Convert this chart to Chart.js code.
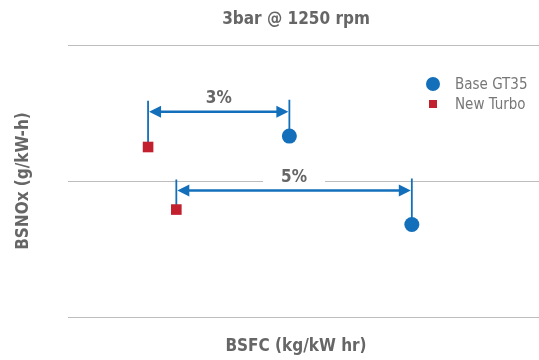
<!DOCTYPE html>
<html>
<head>
<meta charset="utf-8">
<script src="https://cdn.jsdelivr.net/npm/chart.js@4.4.1/dist/chart.umd.min.js"></script>
<style>
  html, body { margin: 0; padding: 0; background: #ffffff; }
  #wrap { width: 539px; height: 360px; }
</style>
</head>
<body>
<div id="wrap"><canvas id="c" width="539" height="360"></canvas></div>
<script>
// Operating point and series
const chartTitle = '3bar @ 1250 rpm';
const xTitle = 'BSFC (kg/kW hr)';
const yTitle = 'BSNOx (g/kW-h)';
const seriesNames = ['Base GT35', 'New Turbo'];

// BSFC is expressed relative to a common reference, in percent
const baseBsfc = [4.7, 7.3];
const baseNox  = [1.33, 0.68];
const newBsfc  = [1.7, 2.3];
const newNox   = [1.25, 0.79];

// NOx level at which each BSFC gap bracket is drawn
const gapLevels = [1.51, 0.93];

const BLUE = '#136fba';
const RED = '#c21f2f';
const TEXT = '#666666';
const CONDENSED = "'Liberation Sans Narrow', 'DejaVu Sans Condensed', 'Roboto', sans-serif";

const toPoints = (xs, ys) => xs.map((x, i) => ({ x: x, y: ys[i] }));

// Draws the gap brackets, legend, and titles
const decorations = {
  id: 'decorations',
  beforeDatasetsDraw(chart) {
    const { ctx, scales: { x, y } } = chart;
    ctx.save();
    gapLevels.forEach((lvl, i) => {
      const xl = x.getPixelForValue(newBsfc[i]);
      const xr = x.getPixelForValue(baseBsfc[i]);
      const ya = y.getPixelForValue(lvl);
      const yl = y.getPixelForValue(newNox[i]);
      const yr = y.getPixelForValue(baseNox[i]);
      const label = Math.round(baseBsfc[i] - newBsfc[i]) + '%';

      // label with a white backing that breaks the grid line
      ctx.font = 'bold 17px ' + CONDENSED;
      ctx.textAlign = 'center';
      ctx.textBaseline = 'middle';
      const cx = (xl + xr) / 2;
      const ly = ya - 14;
      const w = ctx.measureText(label).width + 36;
      ctx.fillStyle = '#ffffff';
      ctx.fillRect(cx - w / 2, ly - 9, w, 18);
      ctx.fillStyle = TEXT;
      ctx.fillText(label, cx, ly + 1);

      // drop lines from the bracket to each marker
      ctx.strokeStyle = BLUE;
      ctx.lineWidth = 1.8;
      ctx.beginPath();
      ctx.moveTo(xl, ya - 11); ctx.lineTo(xl, yl);
      ctx.moveTo(xr, ya - 12); ctx.lineTo(xr, yr);
      ctx.stroke();

      // double-headed arrow
      const head = 12, half = 6;
      ctx.lineWidth = 2.5;
      ctx.beginPath();
      ctx.moveTo(xl + head - 1, ya); ctx.lineTo(xr - head + 1, ya);
      ctx.stroke();
      ctx.fillStyle = BLUE;
      ctx.beginPath();
      ctx.moveTo(xl + 1, ya); ctx.lineTo(xl + 1 + head, ya - half); ctx.lineTo(xl + 1 + head, ya + half);
      ctx.closePath(); ctx.fill();
      ctx.beginPath();
      ctx.moveTo(xr - 1, ya); ctx.lineTo(xr - 1 - head, ya - half); ctx.lineTo(xr - 1 - head, ya + half);
      ctx.closePath(); ctx.fill();
    });
    ctx.restore();
  },
  afterDraw(chart) {
    const { ctx } = chart;
    ctx.save();
    ctx.fillStyle = TEXT;
    ctx.textBaseline = 'middle';
    ctx.textAlign = 'center';
    ctx.font = 'bold 17px ' + CONDENSED;
    ctx.fillText(chartTitle, 296, 20);
    ctx.fillText(xTitle, 296, 347);
    ctx.save();
    ctx.translate(24, 181);
    ctx.rotate(-Math.PI / 2);
    ctx.font = 'bold 17px ' + CONDENSED;
    ctx.fillText(yTitle, 0, 0);
    ctx.restore();

    // legend
    ctx.textAlign = 'left';
    ctx.font = '15px ' + CONDENSED;
    ctx.fillStyle = BLUE;
    ctx.beginPath(); ctx.arc(433, 84, 7, 0, Math.PI * 2); ctx.fill();
    ctx.fillStyle = RED;
    ctx.fillRect(429, 100, 8, 8);
    ctx.fillStyle = '#777777';
    ctx.fillText(seriesNames[0], 455, 85);
    ctx.fillText(seriesNames[1], 455, 105);
    ctx.restore();
  }
};

new Chart(document.getElementById('c'), {
  type: 'scatter',
  data: {
    datasets: [
      {
        label: seriesNames[0],
        data: toPoints(baseBsfc, baseNox),
        pointStyle: 'circle',
        pointRadius: 7.5,
        pointBackgroundColor: BLUE,
        pointBorderWidth: 0
      },
      {
        label: seriesNames[1],
        data: toPoints(newBsfc, newNox),
        pointStyle: 'rect',
        pointRadius: 7.5,
        pointBackgroundColor: RED,
        pointBorderWidth: 0
      }
    ]
  },
  options: {
    responsive: false,
    animation: false,
    layout: { autoPadding: false, padding: { left: 68, right: 0, top: 45, bottom: 43 } },
    plugins: { legend: { display: false }, title: { display: false }, tooltip: { enabled: false } },
    scales: {
      x: { type: 'linear', display: false, min: 0, max: 10 },
      y: {
        type: 'linear', min: 0, max: 2,
        ticks: { display: false, stepSize: 1 },
        border: { display: false },
        grid: { color: '#bdbdbd', lineWidth: 1, drawTicks: false }
      }
    }
  },
  plugins: [decorations]
});
</script>
</body>
</html>
